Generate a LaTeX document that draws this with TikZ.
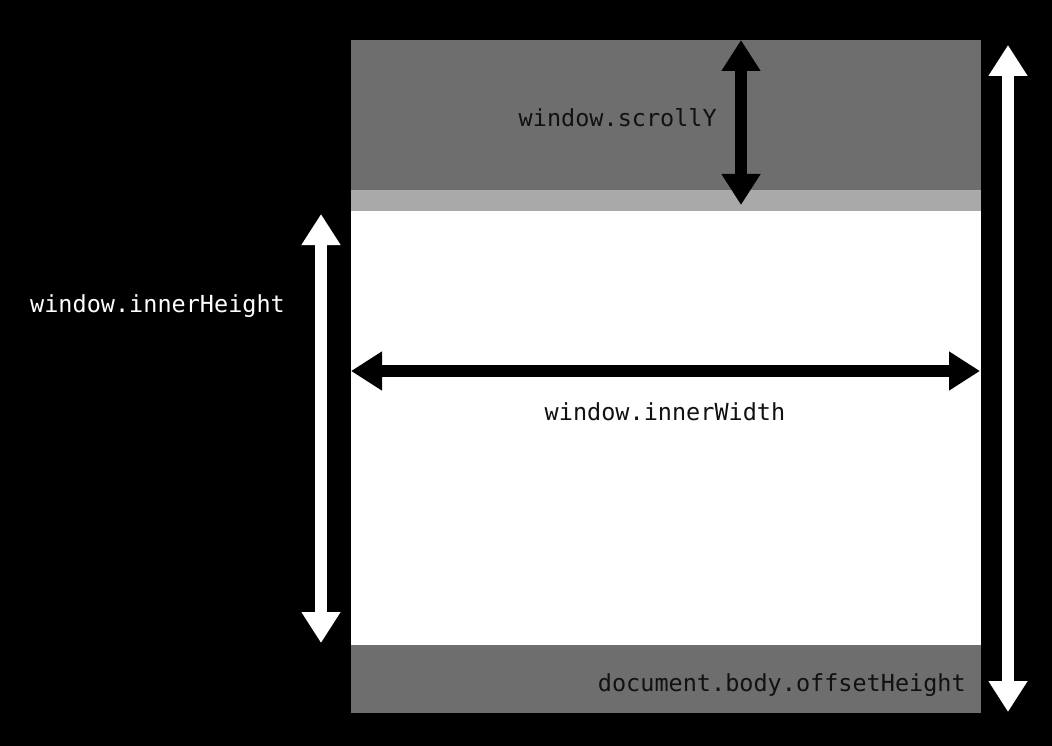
\documentclass[tikz,border=0pt]{standalone}
\usepackage{fontspec}
\setmonofont{DejaVu Sans Mono}
\usetikzlibrary{arrows.meta}
\definecolor{darkgr}{HTML}{6E6E6E}
\definecolor{lightgr}{HTML}{A9A9A9}
\definecolor{labelink}{HTML}{111111}
\tikzset{
  dim/.style={line width=12.5pt, {Triangle[width=37pt,length=31pt]}-{Triangle[width=37pt,length=31pt]}},
  lbl/.style={inner sep=0pt, font=\ttfamily\fontsize{23.5}{26}\selectfont},
}
\begin{document}
\begin{tikzpicture}[x=1pt,y=-1pt]
\useasboundingbox (0,0) rectangle (1052,746);
\fill[black] (0,0) rectangle (1052,746);
% page regions
\fill[darkgr] (351,40) rectangle (981,190);
\fill[lightgr] (351,190) rectangle (981,211);
\fill[white] (351,211) rectangle (981,645);
\fill[darkgr] (351,645) rectangle (981,713);
% named end points
\coordinate (sT) at (741,40);
\coordinate (sB) at (741,205);
\coordinate (hT) at (321,214);
\coordinate (hB) at (321,643);
\coordinate (wL) at (351,371);
\coordinate (wR) at (980,371);
\coordinate (oT) at (1008,45);
\coordinate (oB) at (1008,712);
% arrows
\draw[dim, black] (sT) -- (sB);
\draw[dim, white] (hT) -- (hB);
\draw[dim, black] (wL) -- (wR);
\draw[dim, white] (oT) -- (oB);
% labels
\node[lbl, text=labelink, anchor=base east] (scrollY) at (717,127) {window.scrollY};
\node[lbl, text=white, anchor=base west] (innerH) at (30,312) {window.innerHeight};
\node[lbl, text=labelink, anchor=base] (innerW) at (665,420) {window.innerWidth};
\node[lbl, text=labelink, anchor=base east] (offH) at (966,691) {document.body.offsetHeight};
\end{tikzpicture}
\end{document}
